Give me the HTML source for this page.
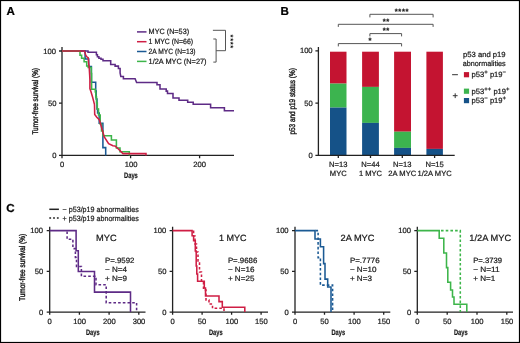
<!DOCTYPE html>
<html><head><meta charset="utf-8">
<style>
html,body{margin:0;padding:0;background:#fff;}
#fig{position:relative;width:520px;height:343px;overflow:hidden;will-change:transform;}
svg{display:block;}
text{text-rendering:geometricPrecision;font-family:"Liberation Sans",sans-serif;fill:#1a1a1a;stroke:#1a1a1a;stroke-width:0.22px;}
.lbl{font-size:11.6px;font-weight:bold;fill:#000;stroke:#000;}
.tk{font-size:7.6px;}
.ax{stroke:#222;stroke-width:1.3;fill:none;}
.br{stroke:#555;stroke-width:1;fill:none;}
.km{fill:none;stroke-width:1.55;stroke-linejoin:miter;}
.pu{stroke:#5E2B86;}
.rd{stroke:#CF1E44;}
.bl{stroke:#1B5A94;}
.gr{stroke:#3DB54A;}
</style></head>
<body><div id="fig">
<svg width="520" height="343" viewBox="0 0 520 343">
<rect x="0.5" y="0.5" width="519" height="342" fill="#fff" stroke="#000" stroke-width="1.2"/>

<!-- ============ PANEL A ============ -->
<text class="lbl" x="6.5" y="15">A</text>
<!-- legend -->
<g stroke-width="1.5">
<line x1="137" y1="31.9" x2="146.5" y2="31.9" class="pu"/>
<line x1="137" y1="41.7" x2="146.5" y2="41.7" class="rd"/>
<line x1="137" y1="51.5" x2="146.5" y2="51.5" class="bl"/>
<line x1="137" y1="61.4" x2="146.5" y2="61.4" class="gr"/>
</g>
<g class="tk">
<text x="148.6" y="34.4" textLength="40.5" lengthAdjust="spacingAndGlyphs">MYC (N=53)</text>
<text x="148.6" y="44.2" textLength="44.5" lengthAdjust="spacingAndGlyphs">1 MYC (N=66)</text>
<text x="148.6" y="54" textLength="47" lengthAdjust="spacingAndGlyphs">2A MYC (N=13)</text>
<text x="148.6" y="63.9" textLength="58" lengthAdjust="spacingAndGlyphs">1/2A MYC (N=27)</text>
</g>
<path class="br" d="M212.9,30.3 H225.5 V50.7 H216.1 M213.3,39 H216.1 V62.1 H213.3"/>
<text class="lbl" style="font-size:7.6px;stroke:none;letter-spacing:0.6px" transform="translate(228.1,34.6) rotate(90)">****</text>

<!-- axes -->
<path class="ax" d="M62,47 V155.4 H234"/>
<path class="ax" d="M59,51 H62 M59,103.2 H62 M59,155.4 H62 M62,155.4 V158.2 M130.6,155.4 V158.2 M199.6,155.4 V158.2"/>
<g class="tk" text-anchor="end">
<text x="56" y="53.5">100</text>
<text x="56.4" y="105.8">50</text>
<text x="56.4" y="158">0</text>
</g>
<g class="tk" text-anchor="middle">
<text x="62" y="167">0</text>
<text x="131.2" y="167">100</text>
<text x="199.6" y="167">200</text>
</g>
<text x="124" y="178" style="font-size:8px;font-weight:bold" textLength="13.8" lengthAdjust="spacingAndGlyphs">Days</text>
<text style="font-size:8.3px;stroke-width:0.4px" transform="translate(37.5,134.6) rotate(-90)" textLength="66.6" lengthAdjust="spacingAndGlyphs">Tumor-free survival (%)</text>

<!-- curves -->
<path class="km pu" d="M62,51 H88 V52.3 H96.4 V54.7 H97.4 V56.7 H98.9 V58.3 H101 V59.3 H103 V60.8 H110.7 V64.4 H115.1 V66.1 H118.4 V68.4 H120.1 V73 L120.8,76.4 H123.4 V78.7 H135.1 L136.6,82.5 H157 V84.7 H160 V88.9 H166.2 V91.1 H167.5 V93.5 H173 V97.9 H179 V100.3 H187.7 V102.3 H193.2 V104.3 H210.6 V107.7 H224.4 V110.8 H234"/>
<path class="km bl" d="M62,51 H85.1 V59 H88.7 V66.4 H91.4 V74.6 H91.4 V82.3 H95.7 V91 H96.2 V99 H97 V109 H97.6 V113 H99.2 V123.3 H102.9 V147.6 H105.7 V155.4"/>
<path class="km gr" d="M62,51 H80 V55.2 H81.6 V58.3 H84.1 V61.8 H86.7 V65.9 H88.2 V67.4 H91.3 V73.6 H91.6 V89.3 H95.3 V92 H95.8 V97 H96.5 V103 H97.3 V109 H98.5 V115 H100.2 V124 H101.5 V131 H103 V135.7 H111.4 V140 H116.4 V147.9 H120 V151.7 H129.3 V155.4"/>
<path class="km rd" d="M62,51 H84.6 L85.7,55.2 L87.2,57.2 L88.2,57.8 L88.7,63.4 L89.2,67.4 L89.7,75.6 L89.9,80 L89.9,88.7 L91,91.7 L92.7,97.5 L94.5,104.5 L94.7,114.4 L96.8,117.3 L99.3,119.7 L104.3,137 L108.6,143.6 L112.9,145.7 L115,146 L118.6,149.3 L123,153.6 H146 V155.4"/>

<!-- ============ PANEL B ============ -->
<text class="lbl" x="280.6" y="14.8">B</text>
<path class="br" d="M369.9,17.4 V14.3 H433.1 V17.4 M338.3,26.9 V24.3 H433.1 V26.9 M369.9,36.4 V33.6 H401.6 V36.4 M338.3,46.4 V43.6 H401.6 V46.4"/>
<g class="lbl" style="font-size:7.6px;stroke:none;letter-spacing:0.6px" text-anchor="middle">
<text x="401.9" y="14.2">****</text>
<text x="386.3" y="23.7">**</text>
<text x="386.3" y="33.3">**</text>
<text x="370.4" y="43.3">*</text>
</g>
<!-- bars -->
<rect x="330" y="51.7" width="16.5" height="31.9" fill="#C41431"/>
<rect x="330" y="83.6" width="16.5" height="24" fill="#3CB44F"/>
<rect x="330" y="107.6" width="16.5" height="47.6" fill="#155288"/>
<rect x="362.1" y="51.7" width="16.8" height="35.2" fill="#C41431"/>
<rect x="362.1" y="86.9" width="16.8" height="36" fill="#3CB44F"/>
<rect x="362.1" y="122.9" width="16.8" height="32.3" fill="#155288"/>
<rect x="394.1" y="51.7" width="16.9" height="80" fill="#C41431"/>
<rect x="394.1" y="131.7" width="16.9" height="16.2" fill="#3CB44F"/>
<rect x="394.1" y="147.9" width="16.9" height="7.3" fill="#155288"/>
<rect x="426.4" y="51.7" width="16.5" height="97.2" fill="#C41431"/>
<rect x="426.4" y="148.9" width="16.5" height="6.3" fill="#155288"/>
<path class="ax" d="M318.4,47 V155.4 H454.7"/>
<path class="ax" d="M315.4,50.9 H318.4 M315.4,103.1 H318.4 M315.4,155.4 H318.4 M338.3,155.4 V158 M370.5,155.4 V158 M402.3,155.4 V158 M434.6,155.4 V158"/>
<g class="tk" text-anchor="end">
<text x="312.6" y="53.4">100</text>
<text x="312.8" y="105.6">50</text>
<text x="312.8" y="157.8">0</text>
</g>
<g class="tk" text-anchor="middle" style="font-size:7.6px">
<text x="338.3" y="167.3">N=13</text>
<text x="338.3" y="175.6">MYC</text>
<text x="370.5" y="167.3">N=44</text>
<text x="370.5" y="175.6">1 MYC</text>
<text x="402.3" y="167.3">N=13</text>
<text x="402.3" y="175.6">2A MYC</text>
<text x="434.6" y="167.3">N=15</text>
<text x="434.6" y="175.6">1/2A MYC</text>
</g>
<text style="font-size:8.3px;stroke-width:0.4px" transform="translate(294.6,134.6) rotate(-90)" textLength="66.4" lengthAdjust="spacingAndGlyphs">p53 and p19 status (%)</text>
<!-- legend B -->
<g class="tk" text-anchor="middle">
<text x="484.3" y="57.3" textLength="42.6" lengthAdjust="spacingAndGlyphs" style="font-size:7.5px">p53 and p19</text>
<text x="484.2" y="65.9" textLength="42.8" lengthAdjust="spacingAndGlyphs" style="font-size:7.5px">abnormalities</text>
</g>
<rect x="463.9" y="72.1" width="5.2" height="5.2" fill="#C41431"/>
<rect x="463.9" y="88.6" width="5.2" height="5.2" fill="#3CB44F"/>
<rect x="463.9" y="98" width="5.2" height="5.2" fill="#155288"/>
<path stroke="#333" stroke-width="1" d="M452.1,74.7 H457.9 M452.8,95.7 H457.6 M455.2,93.3 V98.1"/>
<g class="tk">
<text x="471.6" y="77">p53<tspan dy="-3" style="font-size:6px">+</tspan><tspan dy="3"> p19</tspan><tspan dy="-3" style="font-size:6px">−</tspan></text>
<text x="471.6" y="94">p53<tspan dy="-3" style="font-size:6px">++</tspan><tspan dy="3"> p19</tspan><tspan dy="-3" style="font-size:6px">+</tspan></text>
<text x="471.6" y="103.4">p53<tspan dy="-3" style="font-size:6px">−</tspan><tspan dy="3"> p19</tspan><tspan dy="-3" style="font-size:6px">+</tspan></text>
</g>

<!-- ============ PANEL C ============ -->
<text class="lbl" x="6.3" y="212">C</text>
<path stroke="#222" stroke-width="1.5" d="M49.3,209.3 H58.9"/>
<path stroke="#222" stroke-width="1.5" stroke-dasharray="1.8,2" d="M49.3,217.9 H59"/>
<g class="tk">
<text x="62.6" y="212" textLength="76.3" lengthAdjust="spacingAndGlyphs">− p53/p19 abnormalities</text>
<text x="62.6" y="221.4" textLength="76.3" lengthAdjust="spacingAndGlyphs">+ p53/p19 abnormalities</text>
</g>
<text style="font-size:8.3px;stroke-width:0.4px" transform="translate(25.1,300.9) rotate(-90)" textLength="67" lengthAdjust="spacingAndGlyphs">Tumor-free survival (%)</text>

<!-- C1 -->
<g id="c1">
<path class="ax" d="M49.7,226.7 V312.1 H145.5"/>
<path class="ax" d="M46.7,230.6 H49.7 M46.7,271.4 H49.7 M46.7,312.1 H49.7 M49.7,312.1 V314.8 M79.4,312.1 V314.8 M109.1,312.1 V314.8 M138.8,312.1 V314.8"/>
<g class="tk" text-anchor="end">
<text x="43" y="233.4">100</text>
<text x="43.2" y="274.1">50</text>
<text x="43.2" y="314.8">0</text>
</g>
<g class="tk" text-anchor="middle">
<text x="49.7" y="324">0</text>
<text x="79.6" y="324">100</text>
<text x="109.3" y="324">200</text>
<text x="139" y="324">300</text>
</g>
<text x="86" y="335.1" style="font-size:8px;font-weight:bold" textLength="13.6" lengthAdjust="spacingAndGlyphs">Days</text>
<text x="96" y="241.3" style="font-size:9px" textLength="20.6" lengthAdjust="spacingAndGlyphs">MYC</text>
<g class="tk">
<text x="105" y="262.6" textLength="29.4" lengthAdjust="spacingAndGlyphs">P=.9592</text>
<text x="105" y="271.8" textLength="22" lengthAdjust="spacingAndGlyphs">− N=4</text>
<text x="105" y="281.1" textLength="22" lengthAdjust="spacingAndGlyphs">+ N=9</text>
</g>
<path class="km pu" stroke-dasharray="2.6,2.1" d="M67.1,231.5 V239.3 H72.9 V248.6 H75.4 V257.5 H76.5 V266.4 H81.4 V276.2 H96 V284.7 H106.2 V302.7 H136.6 V312.1"/>
<path class="km pu" d="M49.7,230.6 H76.1 V250.7 H78.3 V271.4 H94.5 V292.1 H130.5 V312.1"/>
</g>

<!-- C2 -->
<path class="ax" d="M172.6,226.7 V312.1 H268"/>
<path class="ax" d="M169.6,230.6 H172.6 M169.6,271.4 H172.6 M169.6,312.1 H172.6 M172.6,312.1 V314.8 M202.1,312.1 V314.8 M231.6,312.1 V314.8 M261.1,312.1 V314.8"/>
<g class="tk" text-anchor="end">
<text x="166.2" y="233.4">100</text>
<text x="166.4" y="274.1">50</text>
<text x="166.4" y="314.8">0</text>
</g>
<g class="tk" text-anchor="middle">
<text x="172.6" y="324">0</text>
<text x="202.1" y="324">50</text>
<text x="231.8" y="324">100</text>
<text x="261.3" y="324">150</text>
</g>
<text x="209" y="335.1" style="font-size:8px;font-weight:bold" textLength="13.6" lengthAdjust="spacingAndGlyphs">Days</text>
<text x="219" y="241.3" style="font-size:9px" textLength="27.6" lengthAdjust="spacingAndGlyphs">1 MYC</text>
<g class="tk">
<text x="227.9" y="262.6" textLength="29.4" lengthAdjust="spacingAndGlyphs">P=.9686</text>
<text x="227.9" y="271.8" textLength="26.5" lengthAdjust="spacingAndGlyphs">− N=16</text>
<text x="227.9" y="281.1" textLength="26.5" lengthAdjust="spacingAndGlyphs">+ N=25</text>
</g>
<path class="km rd" stroke-dasharray="2.6,2.1" d="M193.6,230.6 V236 H195 V244 H196.5 V252 H198 V262 H199.5 V272 H201.5 V282 H203.5 V290 H206 V300 H209 V304 H212.5 V308.3 H224 V312.1"/>
<path class="km rd" d="M172.6,230.6 H192.1 V235.7 H193.6 V240.7 H195.3 V251 H196.2 V266 H196.8 V274 H197.6 V281.3 H204.3 V288 H205.5 V296 H219 V301.6 H222.3 V307.2 H244.8 V312.1"/>

<!-- C3 -->
<path class="ax" d="M295,226.7 V312.1 H390.3"/>
<path class="ax" d="M292,230.6 H295 M292,271.4 H295 M292,312.1 H295 M295,312.1 V314.8 M324.5,312.1 V314.8 M354.1,312.1 V314.8 M383.7,312.1 V314.8"/>
<g class="tk" text-anchor="end">
<text x="288.6" y="233.4">100</text>
<text x="288.8" y="274.1">50</text>
<text x="288.8" y="314.8">0</text>
</g>
<g class="tk" text-anchor="middle">
<text x="295" y="324">0</text>
<text x="324.5" y="324">50</text>
<text x="354.3" y="324">100</text>
<text x="383.9" y="324">150</text>
</g>
<text x="331.5" y="335.1" style="font-size:8px;font-weight:bold" textLength="13.6" lengthAdjust="spacingAndGlyphs">Days</text>
<text x="340.5" y="241.3" style="font-size:9px" textLength="34" lengthAdjust="spacingAndGlyphs">2A MYC</text>
<g class="tk">
<text x="349.9" y="262.6" textLength="29.8" lengthAdjust="spacingAndGlyphs">P=.7776</text>
<text x="349.9" y="271.8" textLength="26.5" lengthAdjust="spacingAndGlyphs">− N=10</text>
<text x="349.9" y="281.1" textLength="22" lengthAdjust="spacingAndGlyphs">+ N=3</text>
</g>
<path class="km bl" stroke-dasharray="2.6,2.1" d="M315.5,230.6 H318.1 V257.6 H320.4 V285.1 H332.6 V312.1"/>
<path class="km bl" d="M295,230.6 H315 V239 H320.4 V246.7 H323.6 V263.6 H325 V279.1 H327.7 V287 H331 V312.1"/>

<!-- C4 -->
<path class="ax" d="M417.3,226.7 V312.1 H513"/>
<path class="ax" d="M414.3,230.6 H417.3 M414.3,271.4 H417.3 M414.3,312.1 H417.3 M417.3,312.1 V314.8 M447.2,312.1 V314.8 M477,312.1 V314.8 M506.8,312.1 V314.8"/>
<g class="tk" text-anchor="end">
<text x="411" y="233.4">100</text>
<text x="411.2" y="274.1">50</text>
<text x="411.2" y="314.8">0</text>
</g>
<g class="tk" text-anchor="middle">
<text x="417.3" y="324">0</text>
<text x="447.2" y="324">50</text>
<text x="477.2" y="324">100</text>
<text x="507" y="324">150</text>
</g>
<text x="454" y="335.1" style="font-size:8px;font-weight:bold" textLength="13.6" lengthAdjust="spacingAndGlyphs">Days</text>
<text x="469.3" y="241.3" style="font-size:9px" textLength="41.8" lengthAdjust="spacingAndGlyphs">1/2A MYC</text>
<g class="tk">
<text x="473.2" y="262.6" textLength="28.8" lengthAdjust="spacingAndGlyphs">P=.3739</text>
<text x="473.2" y="271.8" textLength="26.5" lengthAdjust="spacingAndGlyphs">− N=11</text>
<text x="473.2" y="281.1" textLength="22" lengthAdjust="spacingAndGlyphs">+ N=1</text>
</g>
<path class="km gr" stroke-dasharray="2.6,2.1" d="M441,230.6 H460.3 V312.1"/>
<path class="km gr" d="M417.3,230.6 H439.2 V238.2 H443.8 V252.9 H446.5 V267.6 H447.8 V282.3 H450.6 V290 H452.5 V297 H454 V304.2 H466.8 V312.1"/>

</svg>
</div></body></html>
